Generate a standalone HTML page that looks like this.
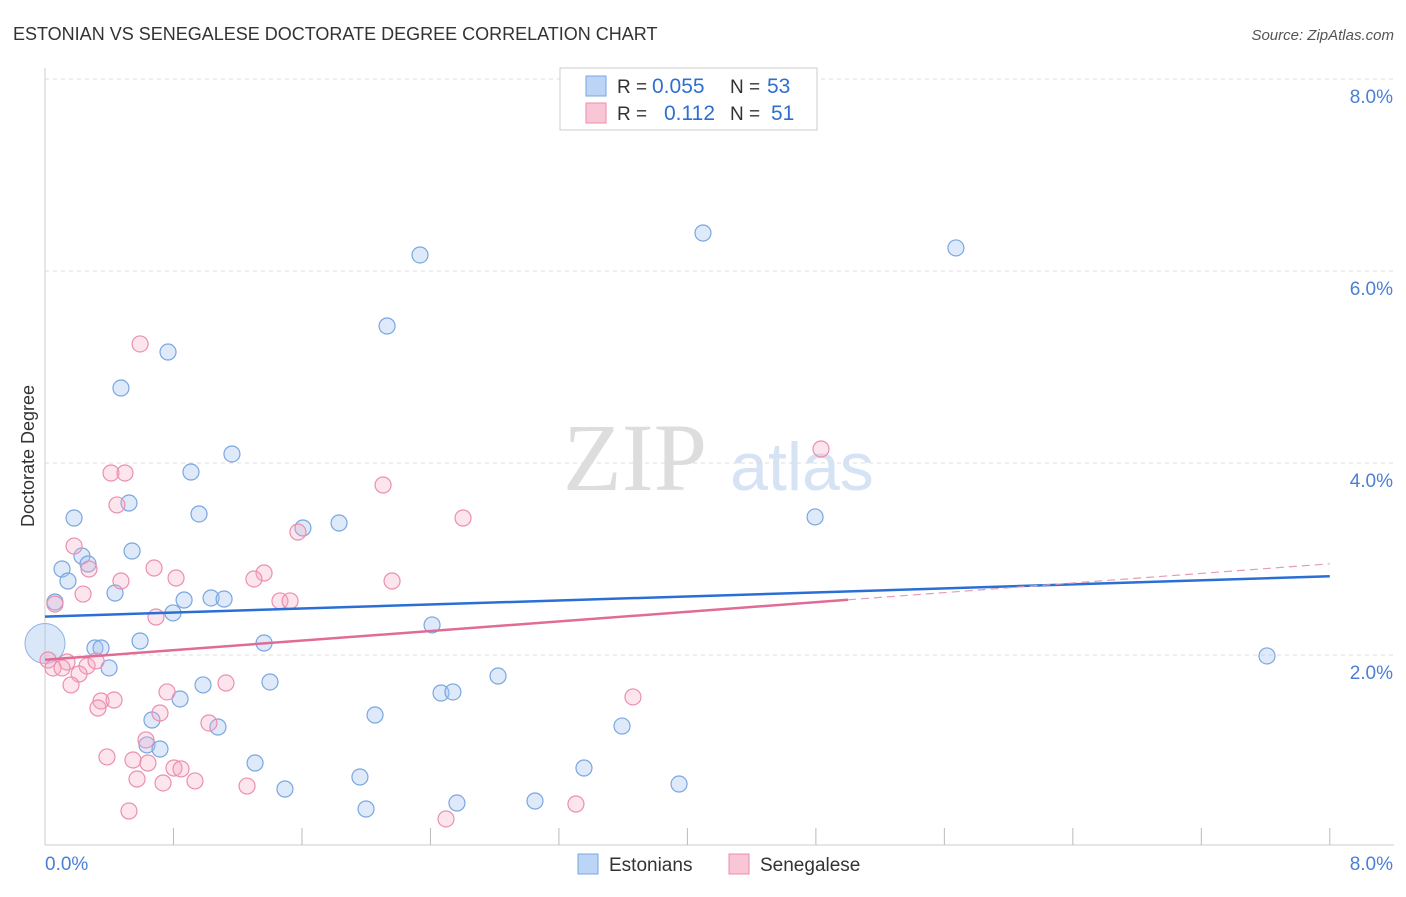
<!DOCTYPE html>
<html><head><meta charset="utf-8"><style>
body{margin:0;background:#fff;font-family:"Liberation Sans",sans-serif}
</style></head><body>
<svg id="c" width="1406" height="892" xmlns="http://www.w3.org/2000/svg" font-family="Liberation Sans, sans-serif">
<text x="13" y="40" font-size="18" fill="#333">ESTONIAN VS SENEGALESE DOCTORATE DEGREE CORRELATION CHART</text>
<text x="1394" y="40" font-size="15" fill="#555" font-style="italic" text-anchor="end">Source: ZipAtlas.com</text>
<text x="34" y="456" font-size="18" fill="#333" transform="rotate(-90 34 456)" text-anchor="middle">Doctorate Degree</text>
<g><text x="635" y="490" font-size="96" fill="#ddd" font-family="Liberation Serif, serif" text-anchor="middle">ZIP</text><text x="802" y="490" font-size="68" fill="#d5e3f5" text-anchor="middle">atlas</text></g>
<g id="grid"></g><g id="pts"></g><g id="lines"></g>
<g>
<rect x="560" y="68" width="257" height="62" fill="#fff" stroke="#ccc"/>
<rect x="586" y="76" width="20" height="20" fill="#bcd4f5" stroke="#7aa6e0"/>
<rect x="586" y="103" width="20" height="20" fill="#f9c6d5" stroke="#eb8fae"/>
<text x="617" y="93" font-size="19" fill="#333">R =</text>
<text x="652" y="93" font-size="21" fill="#2f6fd1">0.055</text>
<text x="730" y="93" font-size="19" fill="#333">N =</text>
<text x="767" y="93" font-size="21" fill="#2f6fd1">53</text>
<text x="617" y="120" font-size="19" fill="#333">R =</text>
<text x="664" y="120" font-size="21" fill="#2f6fd1">0.112</text>
<text x="730" y="120" font-size="19" fill="#333">N =</text>
<text x="771" y="120" font-size="21" fill="#2f6fd1">51</text>
</g>
<g>
<rect x="578" y="854" width="20" height="20" fill="#bcd4f5" stroke="#7aa6e0"/>
<text x="609" y="871" font-size="19" fill="#333">Estonians</text>
<rect x="729" y="854" width="20" height="20" fill="#f9c6d5" stroke="#eb8fae"/>
<text x="760" y="871" font-size="19" fill="#333">Senegalese</text>
</g>
</svg>
<script>
const yTicks=[2,4,6,8];
const xTickCount=10;
const bluePx=[[55,602],[420,255],[703,233],[956,248],[387,326],[168,352],[121,388],[232,454],[191,472],[129,503],[199,514],[74,518],[339,523],[303,528],[815,517],[132,551],[82,556],[62,569],[88,564],[68,581],[115,593],[184,600],[211,598],[224,599],[173,613],[140,641],[264,643],[95,648],[101,648],[432,625],[109,668],[1267,656],[203,685],[270,682],[180,699],[498,676],[441,693],[453,692],[152,720],[218,727],[375,715],[622,726],[147,745],[160,749],[255,763],[584,768],[360,777],[679,784],[285,789],[535,801],[457,803],[366,809]];
const pinkPx=[[140,344],[821,449],[111,473],[125,473],[383,485],[117,505],[463,518],[298,532],[74,546],[89,569],[154,568],[176,578],[264,573],[254,579],[121,581],[392,581],[83,594],[280,601],[290,601],[156,617],[55,604],[48,660],[67,662],[53,668],[62,668],[87,666],[96,661],[79,674],[71,685],[226,683],[167,692],[633,697],[101,701],[114,700],[98,708],[160,713],[209,723],[146,740],[107,757],[133,760],[148,763],[174,768],[181,769],[137,779],[195,781],[163,783],[247,786],[576,804],[129,811],[446,819]];
const blueX=bluePx.map(p=>+((p[0]-45)/160.6).toFixed(3));
const blueY=bluePx.map(p=>+((847-p[1])/96).toFixed(3));
const pinkX=pinkPx.map(p=>+((p[0]-45)/160.6).toFixed(3));
const pinkY=pinkPx.map(p=>+((847-p[1])/96).toFixed(3));
const blueTrend=[2.4,2.82];
const pinkTrend=[1.95,2.95];
const pinkSolidEnd=5.0;
const X=v=>45+v*160.6, Y=v=>847-v*96;
const NS="http://www.w3.org/2000/svg";
function mk(t,a,p){const e=document.createElementNS(NS,t);for(const k in a)e.setAttribute(k,a[k]);p.appendChild(e);return e;}
const grid=document.getElementById('grid');
mk('line',{x1:45,y1:68,x2:45,y2:845,stroke:'#ccc'},grid);
mk('line',{x1:45,y1:845,x2:1394,y2:845,stroke:'#ccc'},grid);
yTicks.forEach(t=>{const l=mk('line',{x1:45,y1:Y(t),x2:1394,y2:Y(t),stroke:'#ddd','stroke-dasharray':'4 4'},grid);

const tx=mk('text',{x:1393,y:Y(t)+24,'font-size':19,fill:'#4a7fd4','text-anchor':'end'},grid);tx.textContent=t.toFixed(1)+'%';
});
for(let i=1;i<=xTickCount;i++){const l=mk('line',{x1:X(i*0.8),y1:828,x2:X(i*0.8),y2:845,stroke:'#bbb'},grid);
}
let t0=mk('text',{x:45,y:870,'font-size':19,fill:'#4a7fd4'},grid);t0.textContent='0.0%';

let t1=mk('text',{x:1393,y:870,'font-size':19,fill:'#4a7fd4','text-anchor':'end'},grid);t1.textContent='8.0%';

const pts=document.getElementById('pts');
const big=mk('circle',{cx:X(0.0),cy:Y(2.12),r:20,fill:'rgba(160,195,240,0.4)',stroke:'#8fb4e6'},pts);

blueX.forEach((x,i)=>{const c=mk('circle',{cx:X(x),cy:Y(blueY[i]),r:8,fill:'rgba(160,195,240,0.35)',stroke:'#7aa6e0','stroke-width':1.2},pts);
});
pinkX.forEach((x,i)=>{const c=mk('circle',{cx:X(x),cy:Y(pinkY[i]),r:8,fill:'rgba(245,170,195,0.3)',stroke:'#eb8fae','stroke-width':1.2},pts);
});
const lines=document.getElementById('lines');
const b=mk('line',{x1:X(0),y1:Y(blueTrend[0]),x2:X(8),y2:Y(blueTrend[1]),stroke:'#2a6fd6','stroke-width':2.5},lines);

const py=v=>pinkTrend[0]+(pinkTrend[1]-pinkTrend[0])*v/8;
const p=mk('line',{x1:X(0),y1:Y(py(0)),x2:X(pinkSolidEnd),y2:Y(py(pinkSolidEnd)),stroke:'#e06c95','stroke-width':2.5},lines);

const pd=mk('line',{x1:X(pinkSolidEnd),y1:Y(py(pinkSolidEnd)),x2:X(8),y2:Y(py(8)),stroke:'#e89ab5','stroke-width':1.2,'stroke-dasharray':'8 5'},lines);

</script>
</body></html>
